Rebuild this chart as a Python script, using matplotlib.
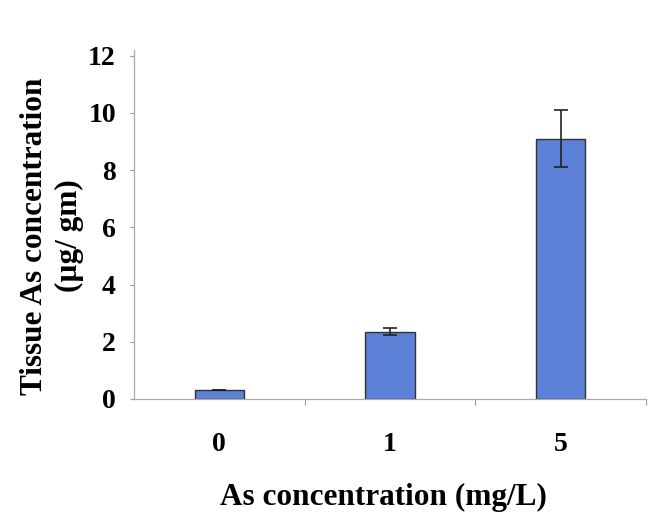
import matplotlib.pyplot as plt

categories = ["0", "1", "5"]
values = [0.3, 2.35, 9.1]
errors = [0.0, 0.12, 1.0]
yticks = [0, 2, 4, 6, 8, 10, 12]

plt.rcParams['font.family'] = ['Liberation Serif', 'DejaVu Serif']
plt.rcParams['font.weight'] = 'bold'

fig = plt.figure(figsize=(6.52, 5.25), dpi=100)
ax = fig.add_axes([0.2055, 0.24, 0.785, 0.665])

pos = list(range(len(categories)))
ax.bar(pos, values, width=0.29, color='#5b80d6', edgecolor='#333333', linewidth=1.0,
       yerr=errors, capsize=5, error_kw=dict(ecolor='#222222', elinewidth=1.2, capthick=1.2), zorder=2)

ax.set_xlim(-0.5, len(categories) - 0.5)
ax.set_ylim(0, 12.2)
ax.set_yticks(yticks)
ax.set_xticks(pos)
ax.set_xticklabels(categories)
ax.set_xticks([p + 0.5 for p in pos], minor=True)
ax.tick_params(axis='x', which='major', length=0, labelsize=20, pad=24)
ax.tick_params(axis='x', which='minor', length=4, color='#999999', width=0.8)
ax.tick_params(axis='y', length=3, color='#999999', width=0.8, labelsize=20, pad=10)

for s in ['top', 'right']:
    ax.spines[s].set_visible(False)
for s in ['left', 'bottom']:
    ax.spines[s].set_color('#aaaaaa')
    ax.spines[s].set_linewidth(0.9)

fig.text(383 / 652, 1 - 497 / 525, "As concentration (mg/L)", fontsize=22.5, fontweight='bold',
         ha='center', va='center')
fig.text(52 / 652, 1 - 236 / 525, "Tissue As concentration\n(µg/ gm)", fontsize=22.5, fontweight='bold',
         ha='center', va='center', rotation=90, multialignment='center', linespacing=1.25)

fig.savefig("out.png", dpi=100)
